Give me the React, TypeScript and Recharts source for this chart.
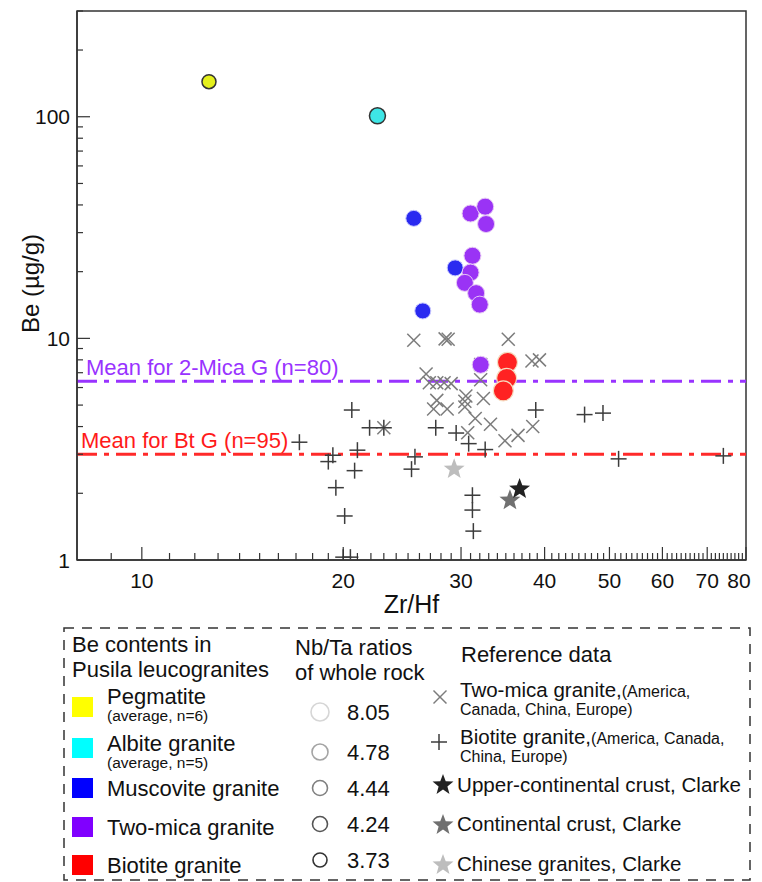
import React from 'react';
import { ScatterChart, Scatter, XAxis, YAxis, ReferenceLine, ReferenceArea } from 'recharts';

const FONT = '"Liberation Sans", Arial, sans-serif';

// Be (µg/g) vs Zr/Hf, Pusila leucogranites
const pegmatite = [{ x: 12.6, y: 144 }];
const albiteGranite = [{ x: 22.5, y: 101 }];
const muscoviteGranite = [
  { x: 25.5, y: 34.8 },
  { x: 29.4, y: 20.8 },
  { x: 26.3, y: 13.3 },
];
const twoMicaGranite = [
  { x: 31.0, y: 36.6 },
  { x: 32.6, y: 39.3 },
  { x: 32.7, y: 32.8 },
  { x: 31.2, y: 23.6 },
  { x: 31.0, y: 19.8 },
  { x: 30.4, y: 17.8 },
  { x: 31.6, y: 16.0 },
  { x: 32.0, y: 14.2 },
  { x: 32.1, y: 7.6 },
];
const biotiteGranite = [
  { x: 35.2, y: 7.8 },
  { x: 35.1, y: 6.6 },
  { x: 34.7, y: 5.8 },
];

// reference data
const refTwoMica = [
  { x: 25.5, y: 9.8 }, { x: 28.4, y: 9.95 }, { x: 28.7, y: 9.9 }, { x: 35.3, y: 9.9 },
  { x: 38.3, y: 7.9 }, { x: 39.3, y: 8.0 }, { x: 26.6, y: 6.9 }, { x: 26.9, y: 6.3 },
  { x: 27.6, y: 6.3 }, { x: 28.3, y: 6.3 }, { x: 29.0, y: 6.25 }, { x: 32.1, y: 6.5 },
  { x: 30.5, y: 5.5 }, { x: 30.4, y: 5.2 }, { x: 32.4, y: 5.35 }, { x: 27.6, y: 5.25 },
  { x: 27.3, y: 4.8 }, { x: 28.6, y: 4.8 }, { x: 30.4, y: 4.9 }, { x: 31.5, y: 4.35 },
  { x: 33.2, y: 4.1 }, { x: 38.4, y: 4.0 }, { x: 36.5, y: 3.65 }, { x: 34.9, y: 3.45 },
  { x: 30.7, y: 3.75 }, { x: 23.0, y: 3.95 }, { x: 32.1, y: 7.63 },
];
const refBiotite = [
  { x: 20.6, y: 4.75 }, { x: 21.9, y: 3.95 }, { x: 23.0, y: 3.95 }, { x: 17.2, y: 3.4 },
  { x: 19.3, y: 2.97 }, { x: 19.0, y: 2.78 }, { x: 21.0, y: 3.13 }, { x: 20.8, y: 2.53 },
  { x: 19.5, y: 2.12 }, { x: 20.1, y: 1.58 }, { x: 20.0, y: 1.03 }, { x: 20.5, y: 1.03 },
  { x: 25.6, y: 2.92 }, { x: 25.3, y: 2.57 }, { x: 27.5, y: 3.95 }, { x: 29.5, y: 3.74 },
  { x: 30.8, y: 3.35 }, { x: 32.6, y: 3.15 }, { x: 31.2, y: 1.96 }, { x: 31.2, y: 1.68 },
  { x: 31.3, y: 1.35 }, { x: 38.8, y: 4.75 }, { x: 45.9, y: 4.53 }, { x: 48.9, y: 4.6 },
  { x: 51.6, y: 2.86 }, { x: 74.0, y: 2.95 },
];
const upperCrust = [{ x: 36.7, y: 2.09 }];
const continentalCrust = [{ x: 35.5, y: 1.86 }];
const chineseGranites = [{ x: 29.3, y: 2.57 }];

const twoMicaMean = 6.4;
const biotiteMean = 3.0;

const xTicks = Array.from({ length: 72 }, (_, i) => i + 9);
const yTicks = [1, 2, 3, 4, 5, 6, 7, 8, 9, 10, 20, 30, 40, 50, 60, 70, 80, 90, 100, 200, 300];
const xMajor = [10, 20, 30, 40, 50, 60, 70, 80];
const yMajor = [1, 10, 100];

const nbTaRatios = ['8.05', '4.78', '4.44', '4.24', '3.73'];

function starPath(cx: number, cy: number, R: number) {
  const r = R * 0.42;
  let d = '';
  for (let i = 0; i < 10; i++) {
    const a = -Math.PI / 2 + (i * Math.PI) / 5;
    const rad = i % 2 === 0 ? R : r;
    d += (i === 0 ? 'M' : 'L') + (cx + rad * Math.cos(a)).toFixed(2) + ',' + (cy + rad * Math.sin(a)).toFixed(2);
  }
  return d + 'Z';
}

const dot = (fill: string, r: number, stroke: string, sw: number) => (p: any) =>
  <circle cx={p.cx} cy={p.cy} r={r} fill={fill} stroke={stroke} strokeWidth={sw} />;

const cross = (p: any) => (
  <g stroke="#7c7c7c" strokeWidth={1.5}>
    <line x1={p.cx - 6.5} y1={p.cy - 6.5} x2={p.cx + 6.5} y2={p.cy + 6.5} />
    <line x1={p.cx - 6.5} y1={p.cy + 6.5} x2={p.cx + 6.5} y2={p.cy - 6.5} />
  </g>
);

const plus = (p: any) => (
  <g stroke="#3c3c3c" strokeWidth={1.5}>
    <line x1={p.cx - 8} y1={p.cy} x2={p.cx + 8} y2={p.cy} />
    <line x1={p.cx} y1={p.cy - 8} x2={p.cx} y2={p.cy + 8} />
  </g>
);

const star = (fill: string) => (p: any) => <path d={starPath(p.cx, p.cy, 11)} fill={fill} />;

const XTick = (props: any) => {
  const { x, y, payload } = props;
  const major = xMajor.includes(payload.value);
  // last label sits against the frame, nudge it left like the original
  const lx = payload.value === 80 ? x - 7 : x;
  return (
    <g>
      <line x1={x} y1={y} x2={x} y2={y - (major ? 13 : 7)} stroke="#333" strokeWidth={1.2} />
      {major && (
        <text x={lx} y={y + 28} textAnchor="middle" fontSize={21} fontFamily={FONT} fill="#111">
          {payload.value}
        </text>
      )}
    </g>
  );
};

const YTick = (props: any) => {
  const { x, y, payload } = props;
  const major = yMajor.includes(payload.value);
  return (
    <g>
      <line x1={x} y1={y} x2={x + (major ? 13 : 6)} y2={y} stroke="#333" strokeWidth={1.2} />
      {major && (
        <text x={x - 7} y={y + 7.5} textAnchor="end" fontSize={21} fontFamily={FONT} fill="#111">
          {payload.value}
        </text>
      )}
    </g>
  );
};

const MeanLabel = (props: any) => {
  const { viewBox, text, color, dx } = props;
  return (
    <text x={viewBox.x + dx} y={viewBox.y - 6} fill={color} fontSize={22} fontFamily={FONT}>
      {text}
    </text>
  );
};

const YLabel = (props: any) => {
  const { viewBox } = props;
  const cx = viewBox.x + 22;
  const cy = viewBox.y + viewBox.height / 2 - 2;
  return (
    <text x={cx} y={cy} transform={`rotate(-90 ${cx} ${cy})`} textAnchor="middle" dominantBaseline="central"
      fontSize={24} fontFamily={FONT} fill="#111">
      Be (µg/g)
    </text>
  );
};

const swatches = [
  { color: '#ffff00', name: 'Pegmatite', sub: '(average, n=6)' },
  { color: '#00ffff', name: 'Albite granite', sub: '(average, n=5)' },
  { color: '#0000ff', name: 'Muscovite granite', sub: '' },
  { color: '#8000ff', name: 'Two-mica granite', sub: '' },
  { color: '#ff0000', name: 'Biotite granite', sub: '' },
];
const swatchTop = [77, 118, 158, 197, 235];
const nameBase = [84, 131, 176, 215, 253];
const ratioCy = [92, 132, 168, 204, 240];
const ratioStroke = ['#d6d6d6', '#a4a4a4', '#808080', '#555', '#333'];
const ratioR = [9, 8, 7.5, 7.5, 7];

function LegendBox() {
  return (
    <svg width={762} height={262} style={{ position: 'absolute', left: -8, top: 612 }} fontFamily={FONT}>
      <rect x={64} y={8} width={686} height={252} fill="none" stroke="#333" strokeWidth={1.5} strokeDasharray="10 8" />
      <text x={72} y={32} fontSize={22} fill="#111">Be contents in</text>
      <text x={72} y={57} fontSize={22} fill="#111">Pusila leucogranites</text>
      {swatches.map((s, i) => (
        <g key={s.name}>
          <rect x={72} y={swatchTop[i]} width={21} height={20} fill={s.color} />
          <text x={107} y={nameBase[i]} fontSize={22} fill="#111">{s.name}</text>
          {s.sub && <text x={107} y={nameBase[i] + 17} fontSize={15.5} fill="#111">{s.sub}</text>}
        </g>
      ))}
      <text x={295} y={35} fontSize={22} fill="#111">Nb/Ta ratios</text>
      <text x={295} y={60} fontSize={22} fill="#111">of whole rock</text>
      {nbTaRatios.map((v, i) => (
        <g key={v}>
          <circle cx={320} cy={ratioCy[i]} r={ratioR[i]} fill="#fff" stroke={ratioStroke[i]} strokeWidth={1.6} />
          <text x={347} y={ratioCy[i] + 8} fontSize={22} fill="#111">{v}</text>
        </g>
      ))}
      <text x={461} y={42} fontSize={22} fill="#111">Reference data</text>
      {cross({ cx: 440, cy: 77 })}
      <text x={460} y={77} fontSize={20.5} fill="#111">
        Two-mica granite,<tspan fontSize={16}>(America,</tspan>
      </text>
      <text x={460} y={95} fontSize={16} fill="#111">Canada, China, Europe)</text>
      {plus({ cx: 439, cy: 122 })}
      <text x={460} y={124} fontSize={20.5} fill="#111">
        Biotite granite,<tspan fontSize={16}>(America, Canada,</tspan>
      </text>
      <text x={460} y={142} fontSize={16} fill="#111">China, Europe)</text>
      <path d={starPath(443, 165, 11)} fill="#222" />
      <text x={457} y={172} fontSize={20.5} fill="#111" textLength={284} lengthAdjust="spacingAndGlyphs">
        Upper-continental crust, Clarke
      </text>
      <path d={starPath(443, 205, 11)} fill="#707070" />
      <text x={457} y={211} fontSize={20.5} fill="#111">Continental crust, Clarke</text>
      <path d={starPath(443, 245, 11)} fill="#bdbdbd" />
      <text x={457} y={251} fontSize={20.5} fill="#111">Chinese granites, Clarke</text>
    </svg>
  );
}

export default function App() {
  return (
    <div style={{ position: 'relative', width: 746, height: 874, fontFamily: FONT }}>
      <ScatterChart width={746} height={612} margin={{ top: 3, right: 8, bottom: 0, left: 0 }}>
        <XAxis
          type="number"
          dataKey="x"
          scale="log"
          domain={[8, 80]}
          allowDataOverflow
          ticks={xTicks}
          interval={0}
          tickSize={0}
          tickMargin={0}
          tick={<XTick />}
          height={60}
          stroke="#333"
          strokeWidth={1.5}
          label={{ value: 'Zr/Hf', position: 'insideBottom', offset: 7, fontSize: 25, fill: '#111', fontFamily: FONT }}
        />
        <YAxis
          type="number"
          dataKey="y"
          scale="log"
          domain={[1, 300]}
          allowDataOverflow
          ticks={yTicks}
          interval={0}
          tickSize={0}
          tickMargin={0}
          tick={<YTick />}
          width={69}
          stroke="#333"
          strokeWidth={1.5}
          label={<YLabel />}
        />
        <ReferenceArea x1={8} x2={80} y1={1} y2={300} fill="none" stroke="#333" strokeWidth={1.5} />
        <Scatter data={refTwoMica} shape={cross} isAnimationActive={false} />
        <Scatter data={refBiotite} shape={plus} isAnimationActive={false} />
        <ReferenceLine
          y={twoMicaMean}
          stroke="#9933ff"
          strokeWidth={3}
          strokeDasharray="20 7 5 7"
          label={<MeanLabel text="Mean for 2-Mica G (n=80)" color="#9933ff" dx={9} />}
        />
        <ReferenceLine
          y={biotiteMean}
          stroke="#ff2a2a"
          strokeWidth={3}
          strokeDasharray="20 7 5 7"
          label={<MeanLabel text="Mean for Bt G (n=95)" color="#ff1a1a" dx={4} />}
        />
        <Scatter data={chineseGranites} shape={star('#bdbdbd')} isAnimationActive={false} />
        <Scatter data={continentalCrust} shape={star('#707070')} isAnimationActive={false} />
        <Scatter data={upperCrust} shape={star('#222')} isAnimationActive={false} />
        <Scatter data={pegmatite} shape={dot('#e4f01c', 7, '#333', 1.5)} isAnimationActive={false} />
        <Scatter data={albiteGranite} shape={dot('#3ee6e6', 8, '#333', 1.5)} isAnimationActive={false} />
        <Scatter data={muscoviteGranite} shape={dot('#2a2af0', 8, '#c8c8ff', 1)} isAnimationActive={false} />
        <Scatter data={twoMicaGranite} shape={dot('#9a33f5', 8.5, '#e6c8f5', 1)} isAnimationActive={false} />
        <Scatter data={biotiteGranite} shape={dot('#ff2222', 10, '#f5dcc0', 1.2)} isAnimationActive={false} />
      </ScatterChart>
      <LegendBox />
    </div>
  );
}
